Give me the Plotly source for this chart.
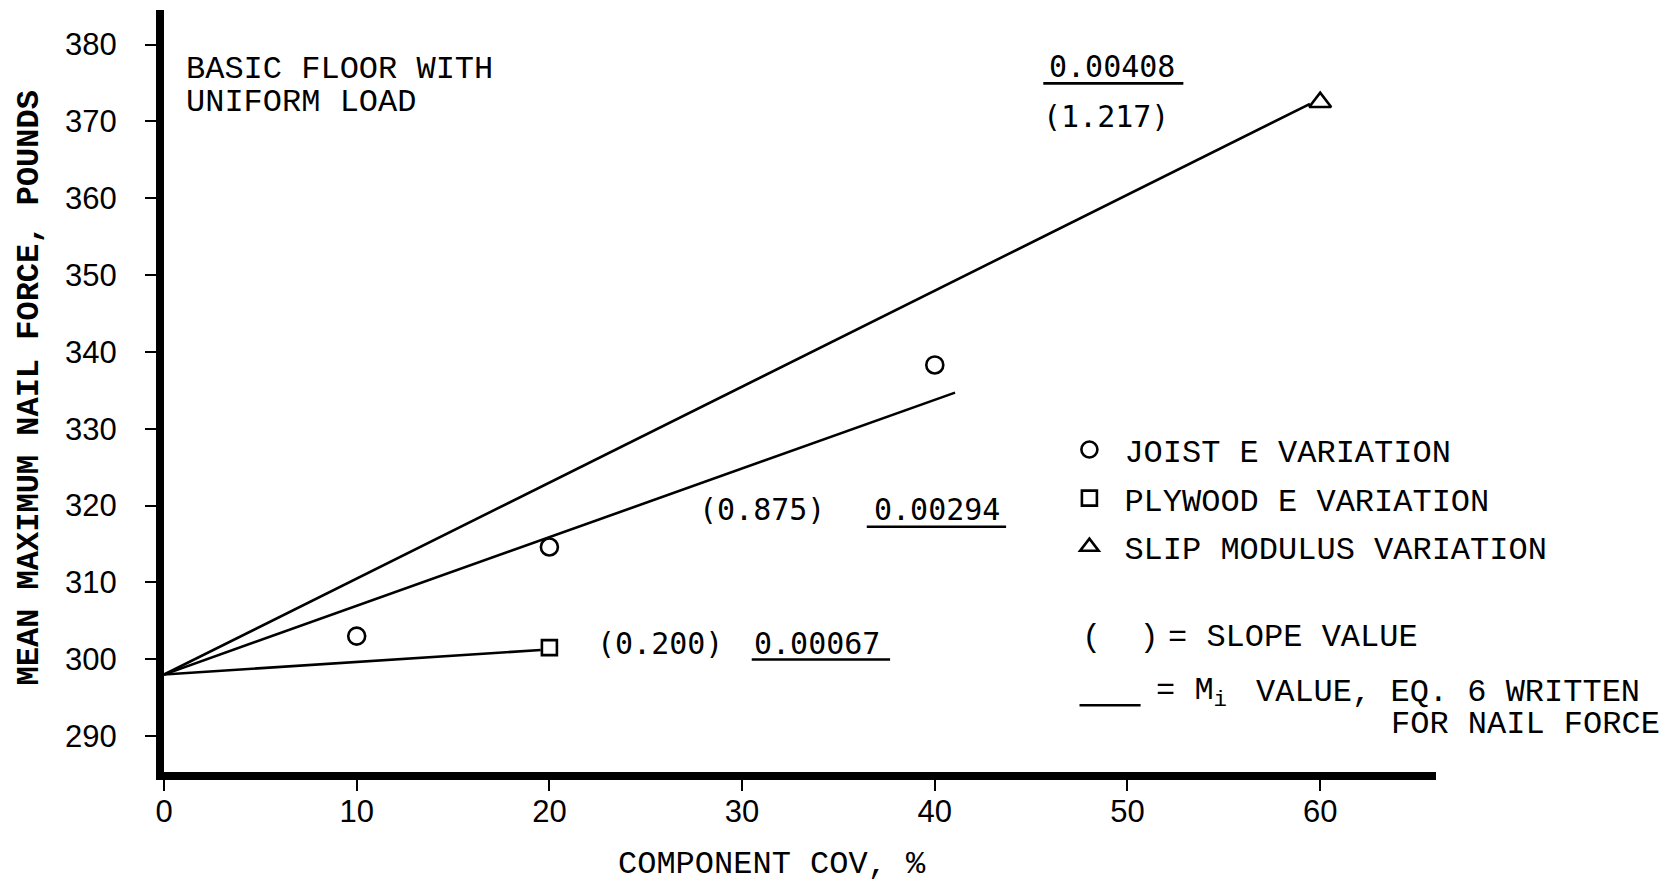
import plotly.graph_objects as go

# ---- data -------------------------------------------------------------
cov_joist = [10, 20, 40]
force_joist = [303.0, 314.6, 338.3]

cov_plywood = [20]
force_plywood = [301.5]

cov_slip = [60]
force_slip = [372.5]

# fitted lines (start, end) for each variation
joist_line_x = [0, 41.05]
joist_line_y = [298.0, 334.7]
plywood_line_x = [0, 19.55]
plywood_line_y = [298.0, 301.2]
slip_line_x = [0, 59.47]
slip_line_y = [298.0, 372.3]

# slope values and M_i values written beside each line
slope_labels = ["(0.875)", "(0.200)", "(1.217)"]
mi_labels = ["0.00294", "0.00067", "0.00408"]

x_ticks = [0, 10, 20, 30, 40, 50, 60]
y_ticks = [290, 300, 310, 320, 330, 340, 350, 360, 370, 380]

# ---- styling ------------------------------------------------------------
TYPE = "Liberation Mono, Courier New, monospace"
NUM = "DejaVu Sans Mono, monospace"
TICK = "Liberation Sans, Arial, sans-serif"
INK = "black"

fig = go.Figure()

for lx, ly in [(joist_line_x, joist_line_y),
               (plywood_line_x, plywood_line_y),
               (slip_line_x, slip_line_y)]:
    fig.add_trace(go.Scatter(x=lx, y=ly, mode="lines",
                             line=dict(color=INK, width=2.6),
                             showlegend=False, hoverinfo="skip"))

marker_line = dict(color=INK, width=2.6)
fig.add_trace(go.Scatter(x=cov_joist, y=force_joist, mode="markers",
                         name="JOIST E VARIATION", legendgroup="a",
                         marker=dict(symbol="circle-open", size=17, color=INK,
                                     line=marker_line)))
fig.add_trace(go.Scatter(x=cov_plywood, y=force_plywood, mode="markers",
                         name="PLYWOOD E VARIATION", legendgroup="b",
                         marker=dict(symbol="square-open", size=15, color=INK,
                                     line=marker_line)))
fig.add_trace(go.Scatter(x=cov_slip, y=force_slip, mode="markers",
                         name="SLIP MODULUS VARIATION", legendgroup="c",
                         marker=dict(symbol="triangle-up-open", size=19, color=INK,
                                     line=marker_line)))

ann = []


def text(x, y, s, font=TYPE, size=32, xanchor="left", weight=None):
    f = dict(family=font, size=size, color=INK)
    if weight:
        f["weight"] = weight
    ann.append(dict(x=x, y=y, text=s, showarrow=False, font=f,
                    xanchor=xanchor, yanchor="middle", align="left"))


# title block
text(1.02, 376.7, "BASIC FLOOR WITH")
text(1.02, 372.5, "UNIFORM LOAD")

# slope / M_i values next to each line
text(31.02, 319.5, slope_labels[0], font=NUM, size=30, xanchor="center")
text(40.10, 319.5, mi_labels[0], font=NUM, size=30, xanchor="center")
text(25.74, 302.1, slope_labels[1], font=NUM, size=30, xanchor="center")
text(33.91, 302.1, mi_labels[1], font=NUM, size=30, xanchor="center")
text(49.18, 377.1, mi_labels[2], font=NUM, size=30, xanchor="center")
text(48.87, 370.7, slope_labels[2], font=NUM, size=30, xanchor="center")

# key
text(47.51, 302.8, "(  )")
text(51.99, 302.8, "= SLOPE VALUE")
text(51.37, 295.6, "= M<sub>i</sub>")
text(56.56, 295.6, "VALUE, EQ. 6 WRITTEN")
text(63.55, 291.5, "FOR NAIL FORCE")

# axis titles
ann.append(dict(x=-0.105, y=0.504, xref="paper", yref="paper",
                text="MEAN MAXIMUM NAIL FORCE, POUNDS", textangle=-90,
                showarrow=False, xanchor="center", yanchor="middle",
                font=dict(family=TYPE, size=32, color=INK, weight="bold")))
ann.append(dict(x=0.478, y=-0.122, xref="paper", yref="paper",
                text="COMPONENT COV, %", showarrow=False,
                xanchor="center", yanchor="middle",
                font=dict(family=TYPE, size=32, color=INK)))

# underlines for the M_i values and the key
shapes = []
for x0, x1, y in [(36.47, 43.70, 317.23), (30.50, 37.68, 299.96),
                  (45.63, 52.90, 374.96), (47.51, 50.68, 294.0)]:
    shapes.append(dict(type="line", xref="x", yref="y", x0=x0, x1=x1, y0=y, y1=y,
                       line=dict(color=INK, width=2.6)))

fig.update_layout(
    width=1667, height=885,
    margin=dict(l=164, r=231, t=10, b=113),
    paper_bgcolor="white", plot_bgcolor="white",
    annotations=ann, shapes=shapes,
    showlegend=True,
    legend=dict(x=0.70, y=0.459, xanchor="left", yanchor="top",
                font=dict(family=TYPE, size=32, color=INK),
                itemwidth=60, tracegroupgap=4, traceorder="grouped",
                bgcolor="rgba(0,0,0,0)", borderwidth=0),
)

fig.update_xaxes(range=[0, 66.01], tickvals=x_ticks, ticktext=[str(v) for v in x_ticks],
                 showgrid=False, zeroline=False, showline=True, linecolor=INK,
                 linewidth=8, ticks="outside", ticklen=11, tickwidth=2, tickcolor=INK,
                 ticklabelstandoff=-6,
                 tickfont=dict(family=TICK, size=31, color=INK))
fig.update_yaxes(range=[285.31, 384.51], tickvals=y_ticks, ticktext=[str(v) for v in y_ticks],
                 showgrid=False, zeroline=False, showline=True, linecolor=INK,
                 linewidth=8, ticks="outside", ticklen=11, tickwidth=2, tickcolor=INK,
                 ticklabelstandoff=22,
                 tickfont=dict(family=TICK, size=31, color=INK))

fig.write_html("out.html")
